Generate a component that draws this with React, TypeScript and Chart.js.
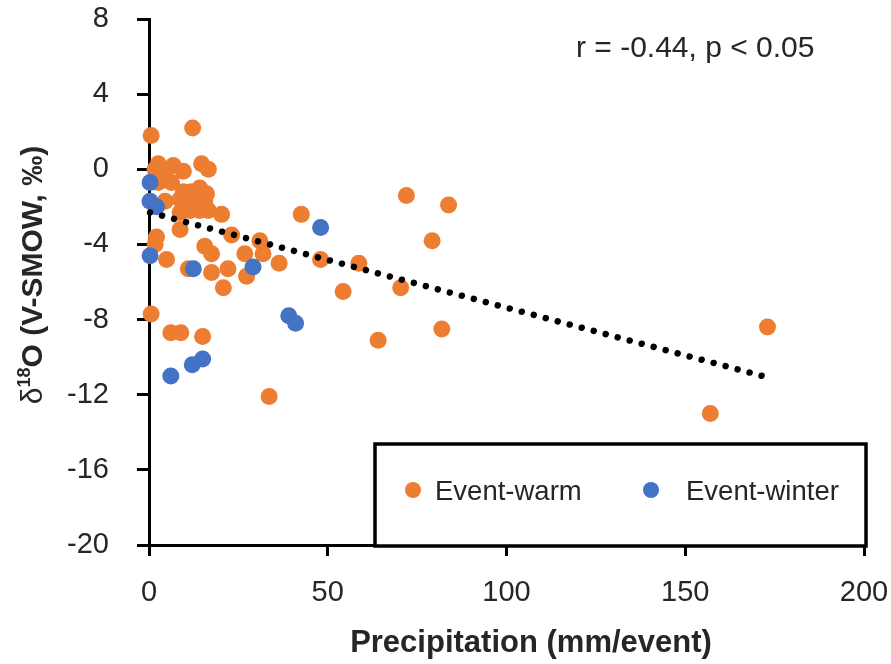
import React, { useEffect, useRef } from "react";
import { Chart, registerables } from "chart.js";

Chart.register(...registerables);

// Event-warm (orange)
const warmX = [0.6, 12.2, 2.6, 6.8, 9.6, 14.7, 16.6, 1.7, 3.5, 4.5, 6.3, 2.6, 14.2, 11.9, 16.1, 9.6, 11.0, 8.7, 4.5, 12.4, 15.6, 14.2, 11.5, 12.8, 8.7, 16.6, 20.3, 42.6, 72.0, 83.8, 8.7, 2.1, 1.7, 23.1, 31.0, 15.6, 17.5, 26.8, 31.9, 36.4, 48.0, 58.7, 79.2, 4.9, 11.0, 17.5, 22.1, 27.3, 20.8, 54.3, 70.4, 0.6, 6.1, 8.9, 15.0, 64.1, 81.9, 33.6, 157.0, 173.0];
const warmY = [1.8, 2.2, 0.3, 0.2, -0.1, 0.3, 0.0, 0.0, -0.2, -0.2, -0.7, -0.7, -1.0, -1.2, -1.3, -1.2, -1.5, -1.6, -1.7, -1.7, -1.7, -2.2, -2.2, -2.0, -2.3, -2.2, -2.4, -2.4, -1.4, -1.9, -3.2, -3.6, -4.0, -3.5, -3.8, -4.1, -4.5, -4.5, -4.5, -5.0, -4.8, -5.0, -3.8, -4.8, -5.3, -5.5, -5.3, -5.7, -6.3, -6.5, -6.3, -7.7, -8.7, -8.7, -8.9, -9.1, -8.5, -12.1, -13.0, -8.4];

// Event-winter (blue)
const winterX = [0.3, 0.3, 2.1, 48.0, 0.3, 12.4, 29.1, 39.1, 41.0, 6.1, 12.1, 15.0];
const winterY = [-0.7, -1.7, -2.0, -3.1, -4.6, -5.3, -5.2, -7.8, -8.2, -11.0, -10.4, -10.1];

// Linear trend line end points
const trendX = [0.3, 173.5];
const trendY = [-2.3, -11.1];

const xTicks = [0, 50, 100, 150, 200];
const yTicks = [8, 4, 0, -4, -8, -12, -16, -20];

const seriesNames = ["Event-warm", "Event-winter"];
const annotationText = "r = -0.44, p < 0.05";
const xTitle = "Precipitation (mm/event)";

const ORANGE = "#ED7D31";
const BLUE = "#4472C4";
const TEXT = "#262626";
const FONT = "'Liberation Sans', Arial, sans-serif";

const toPts = (xs: number[], ys: number[]) => xs.map((x, i) => ({ x, y: ys[i] }));

const zeroPad = (s: any) => {
  s.paddingTop = 0;
  s.paddingBottom = 0;
  s.paddingLeft = 0;
  s.paddingRight = 0;
};

const decorPlugin = {
  id: "decor",
  afterDraw(chart: any) {
    const ctx = chart.ctx as CanvasRenderingContext2D;
    ctx.save();
    // annotation
    ctx.fillStyle = TEXT;
    ctx.font = `30px ${FONT}`;
    ctx.textAlign = "left";
    ctx.textBaseline = "middle";
    ctx.fillText(annotationText, 576, 49);

    // legend box
    ctx.fillStyle = "#fff";
    ctx.fillRect(375, 444, 491, 102);
    ctx.strokeStyle = "#000";
    ctx.lineWidth = 3.5;
    ctx.strokeRect(375, 444, 491, 102);
    ctx.beginPath();
    ctx.fillStyle = ORANGE;
    ctx.arc(413, 490, 8, 0, Math.PI * 2);
    ctx.fill();
    ctx.beginPath();
    ctx.fillStyle = BLUE;
    ctx.arc(651, 490, 8, 0, Math.PI * 2);
    ctx.fill();
    ctx.fillStyle = TEXT;
    ctx.font = `27.5px ${FONT}`;
    ctx.textBaseline = "middle";
    ctx.fillText(seriesNames[0], 435, 492);
    ctx.fillText(seriesNames[1], 686, 492);

    // x title
    ctx.font = `bold 31px ${FONT}`;
    ctx.textAlign = "center";
    ctx.fillText(xTitle, 531, 643);

    // y title
    ctx.translate(32, 275);
    ctx.rotate(-Math.PI / 2);
    const p1 = "δ";
    const p2 = "18";
    const p3 = "O (V-SMOW, ‰)";
    ctx.font = `30px ${FONT}`;
    const w1 = ctx.measureText(p1).width;
    ctx.font = `bold 18px ${FONT}`;
    const w2 = ctx.measureText(p2).width;
    ctx.font = `bold 30px ${FONT}`;
    const w3 = ctx.measureText(p3).width;
    let x0 = -(w1 + w2 + w3) / 2;
    ctx.textAlign = "left";
    ctx.textBaseline = "alphabetic";
    ctx.font = `30px ${FONT}`;
    ctx.fillText(p1, x0, 10);
    x0 += w1;
    ctx.font = `bold 18px ${FONT}`;
    ctx.fillText(p2, x0, -2);
    x0 += w2;
    ctx.font = `bold 30px ${FONT}`;
    ctx.fillText(p3, x0, 10);
    ctx.restore();
  },
};

export default function App() {
  const ref = useRef<HTMLCanvasElement>(null);
  useEffect(() => {
    document.body.style.margin = "0";
    const chart = new Chart(ref.current as HTMLCanvasElement, {
      type: "scatter",
      data: {
        datasets: [
          {
            label: "trend",
            data: toPts(trendX, trendY),
            showLine: true,
            pointRadius: 0,
            borderColor: "#000",
            borderWidth: 6.5,
            borderDash: [0.01, 12.4],
            borderCapStyle: "round",
            clip: false,
            order: 0,
          } as any,
          {
            label: seriesNames[1],
            data: toPts(winterX, winterY),
            backgroundColor: BLUE,
            borderWidth: 0,
            pointRadius: 8.5,
            clip: false,
            order: 1,
          },
          {
            label: seriesNames[0],
            data: toPts(warmX, warmY),
            backgroundColor: ORANGE,
            borderWidth: 0,
            pointRadius: 8.5,
            clip: false,
            order: 2,
          },
        ],
      },
      options: {
        responsive: false,
        animation: false,
        layout: { padding: { top: 19, right: 27, left: 0, bottom: 0 } },
        plugins: { legend: { display: false }, tooltip: { enabled: false } },
        scales: {
          x: {
            type: "linear",
            min: 0,
            max: 200,
            afterFit: (s: any) => {
              s.height = 119;
              zeroPad(s);
            },
            afterBuildTicks: (s: any) => {
              s.ticks = xTicks.map((v) => ({ value: v }));
            },
            ticks: { color: TEXT, font: { size: 29, family: FONT }, padding: 20, maxRotation: 0 },
            grid: { drawOnChartArea: false, drawTicks: true, tickLength: 11, tickWidth: 3, tickColor: "#000" },
            border: { display: true, color: "#000", width: 3 },
          },
          y: {
            type: "linear",
            min: -20,
            max: 8,
            afterFit: (s: any) => {
              s.width = 149;
              zeroPad(s);
            },
            afterBuildTicks: (s: any) => {
              s.ticks = yTicks.map((v) => ({ value: v }));
            },
            ticks: { color: TEXT, font: { size: 29, family: FONT }, padding: 28 },
            grid: { drawOnChartArea: false, drawTicks: true, tickLength: 12, tickWidth: 3, tickColor: "#000" },
            border: { display: true, color: "#000", width: 3 },
          },
        },
      } as any,
      plugins: [decorPlugin],
    });
    return () => chart.destroy();
  }, []);
  return (
    <div style={{ position: "fixed", left: 0, top: 0, width: 891, height: 664, background: "#fff" }}>
      <canvas ref={ref} width={891} height={664} />
    </div>
  );
}
